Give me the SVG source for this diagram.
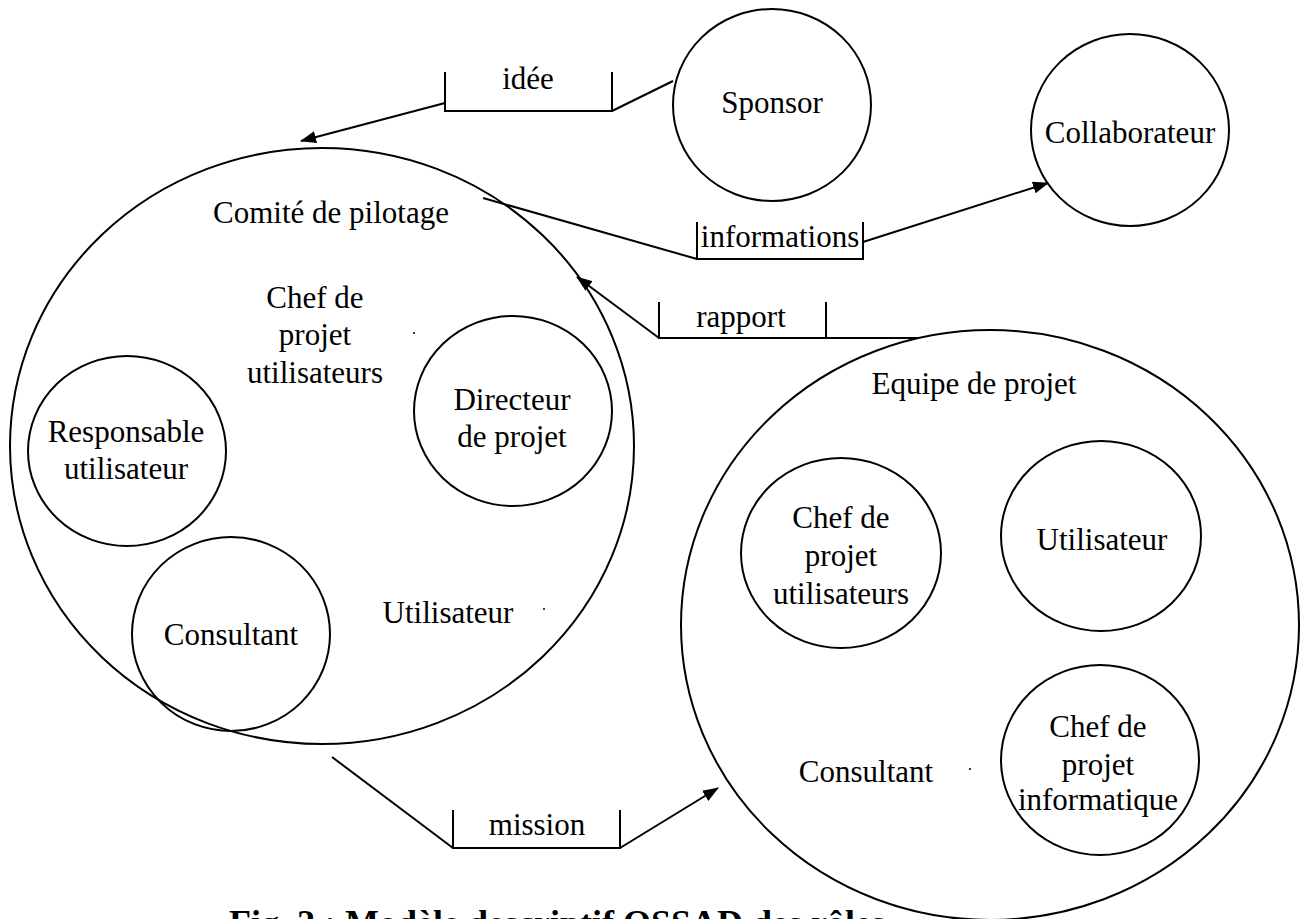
<svg xmlns="http://www.w3.org/2000/svg" width="1304" height="919" viewBox="0 0 1304 919">
  <defs>
    <marker id="arrow" markerUnits="userSpaceOnUse" markerWidth="16" markerHeight="12" refX="15" refY="6" orient="auto">
      <path d="M0,0 L16,6 L0,12 z" fill="#000"/>
    </marker>
    <style>
      .role { fill: none; stroke: #000; stroke-width: 2; }
      .flow { fill: none; stroke: #000; stroke-width: 2; }
      .arrow { fill: none; stroke: #000; stroke-width: 2; marker-end: url(#arrow); }
      text { font-family: "Liberation Serif", "Times New Roman", serif; font-size: 31px; fill: #000; text-anchor: middle; }
      .caption { font-weight: bold; font-size: 36px; text-anchor: start; }
      .dot { fill: #000; }
    </style>
  </defs>
  <rect width="1304" height="919" fill="#fff"/>

  <!-- Comité de pilotage and its roles -->
  <g id="comite">
    <ellipse class="role" cx="322" cy="446" rx="312" ry="298"/>
    <text x="331" y="223">Comité de pilotage</text>
    <text x="315" y="308">Chef de</text>
    <text x="315" y="345">projet</text>
    <text x="315" y="383">utilisateurs</text>
    <circle class="dot" cx="414" cy="333" r="1"/>
    <text x="448" y="623">Utilisateur</text>
    <circle class="dot" cx="544" cy="609" r="1"/>
  </g>
  <g id="directeur">
    <ellipse class="role" cx="513" cy="411" rx="99" ry="95"/>
    <text x="512" y="410">Directeur</text>
    <text x="512" y="447">de projet</text>
  </g>
  <g id="responsable">
    <ellipse class="role" cx="127" cy="451" rx="99" ry="95"/>
    <text x="126" y="442">Responsable</text>
    <text x="126" y="479">utilisateur</text>
  </g>
  <g id="consultant-comite">
    <ellipse class="role" cx="231" cy="634" rx="99" ry="97"/>
    <text x="231" y="645">Consultant</text>
  </g>

  <!-- External roles -->
  <g id="sponsor">
    <ellipse class="role" cx="772" cy="105" rx="99" ry="96"/>
    <text x="772" y="113">Sponsor</text>
  </g>
  <g id="collaborateur">
    <ellipse class="role" cx="1130" cy="130" rx="99" ry="96"/>
    <text x="1130" y="143">Collaborateur</text>
  </g>

  <!-- Equipe de projet and its roles -->
  <g id="equipe">
    <ellipse class="role" cx="990" cy="625" rx="309" ry="295"/>
    <text x="974" y="394">Equipe de projet</text>
    <text x="866" y="782">Consultant</text>
    <circle class="dot" cx="970" cy="769" r="1"/>
  </g>
  <g id="chef-utilisateurs">
    <ellipse class="role" cx="841" cy="553" rx="100" ry="95"/>
    <text x="841" y="528">Chef de</text>
    <text x="841" y="566">projet</text>
    <text x="841" y="604">utilisateurs</text>
  </g>
  <g id="utilisateur-equipe">
    <ellipse class="role" cx="1101" cy="536" rx="100" ry="95"/>
    <text x="1102" y="550">Utilisateur</text>
  </g>
  <g id="chef-informatique">
    <ellipse class="role" cx="1100" cy="760" rx="99" ry="95"/>
    <text x="1098" y="737">Chef de</text>
    <text x="1098" y="775">projet</text>
    <text x="1098" y="810">informatique</text>
  </g>

  <!-- Flows: each message sits on a bracket between two roles -->
  <g id="connectors">
    <g id="flow-idee">
      <line class="flow" x1="673" y1="81" x2="612" y2="111"/>
      <path class="flow" d="M445,72 V111 H612 V72"/>
      <line class="arrow" x1="445" y1="103" x2="301" y2="141"/>
      <text x="528" y="89">idée</text>
    </g>
    <g id="flow-informations">
      <line class="flow" x1="483" y1="198" x2="697" y2="259"/>
      <path class="flow" d="M697,222 V259 H863 V222"/>
      <line class="arrow" x1="863" y1="242" x2="1048" y2="183"/>
      <text x="780" y="247">informations</text>
    </g>
    <g id="flow-rapport">
      <path class="flow" d="M659,302 V338 H918"/>
      <line class="flow" x1="826" y1="302" x2="826" y2="338"/>
      <line class="arrow" x1="659" y1="338" x2="577" y2="277"/>
      <text x="741" y="327">rapport</text>
    </g>
    <g id="flow-mission">
      <line class="flow" x1="332" y1="757" x2="453" y2="848"/>
      <path class="flow" d="M453,810 V848 H620 V810"/>
      <line class="arrow" x1="620" y1="848" x2="718" y2="788"/>
      <text x="537" y="835">mission</text>
    </g>
  </g>

  <text class="caption" x="229" y="935">Fig. 2 : Modèle descriptif OSSAD des rôles</text>
</svg>
